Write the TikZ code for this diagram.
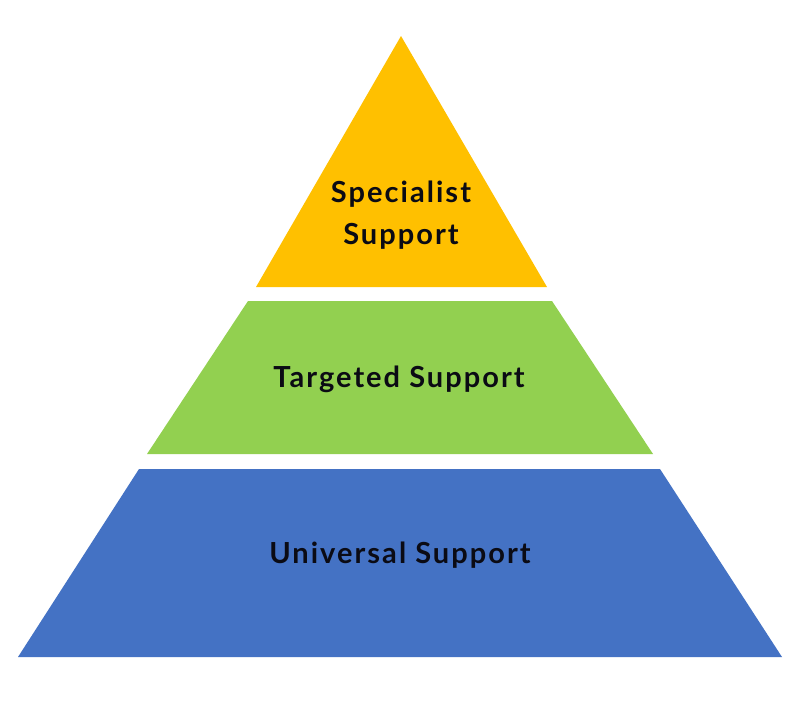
\documentclass[tikz,border=0pt]{standalone}
\usepackage{fontspec}
\setmainfont{Lato}
\newfontfamily\lblfont[LetterSpace=7]{Lato}
\definecolor{tierY}{HTML}{FFC000}
\definecolor{tierG}{HTML}{92D050}
\definecolor{tierB}{HTML}{4472C4}
\definecolor{ink}{HTML}{0B0B14}
\begin{document}
\begin{tikzpicture}[x=1pt,y=-1pt,
  tier/.style={draw=none},
  lbl/.style={text=ink,font=\lblfont\fontsize{29}{34}\selectfont\bfseries,anchor=base,inner sep=0pt}]
\useasboundingbox (0,0) rectangle (800,712);
\fill[white] (0,0) rectangle (800,712);
% tiers
\fill[tierY,tier] (401,36) -- (547,287) -- (256,287) -- cycle;
\fill[tierG,tier] (248,301) -- (552,301) -- (653,454) -- (147,454) -- cycle;
\fill[tierB,tier] (139,469) -- (660,469) -- (782,657) -- (18,657) -- cycle;
% labels
\node[lbl] (spec1) at (401,202) {Specialist};
\node[lbl] (spec2) at (401,244) {Support};
\node[lbl] (targ) at (399,387) {Targeted Support};
\node[lbl] (univ) at (400,563) {Universal Support};
\end{tikzpicture}
\end{document}
